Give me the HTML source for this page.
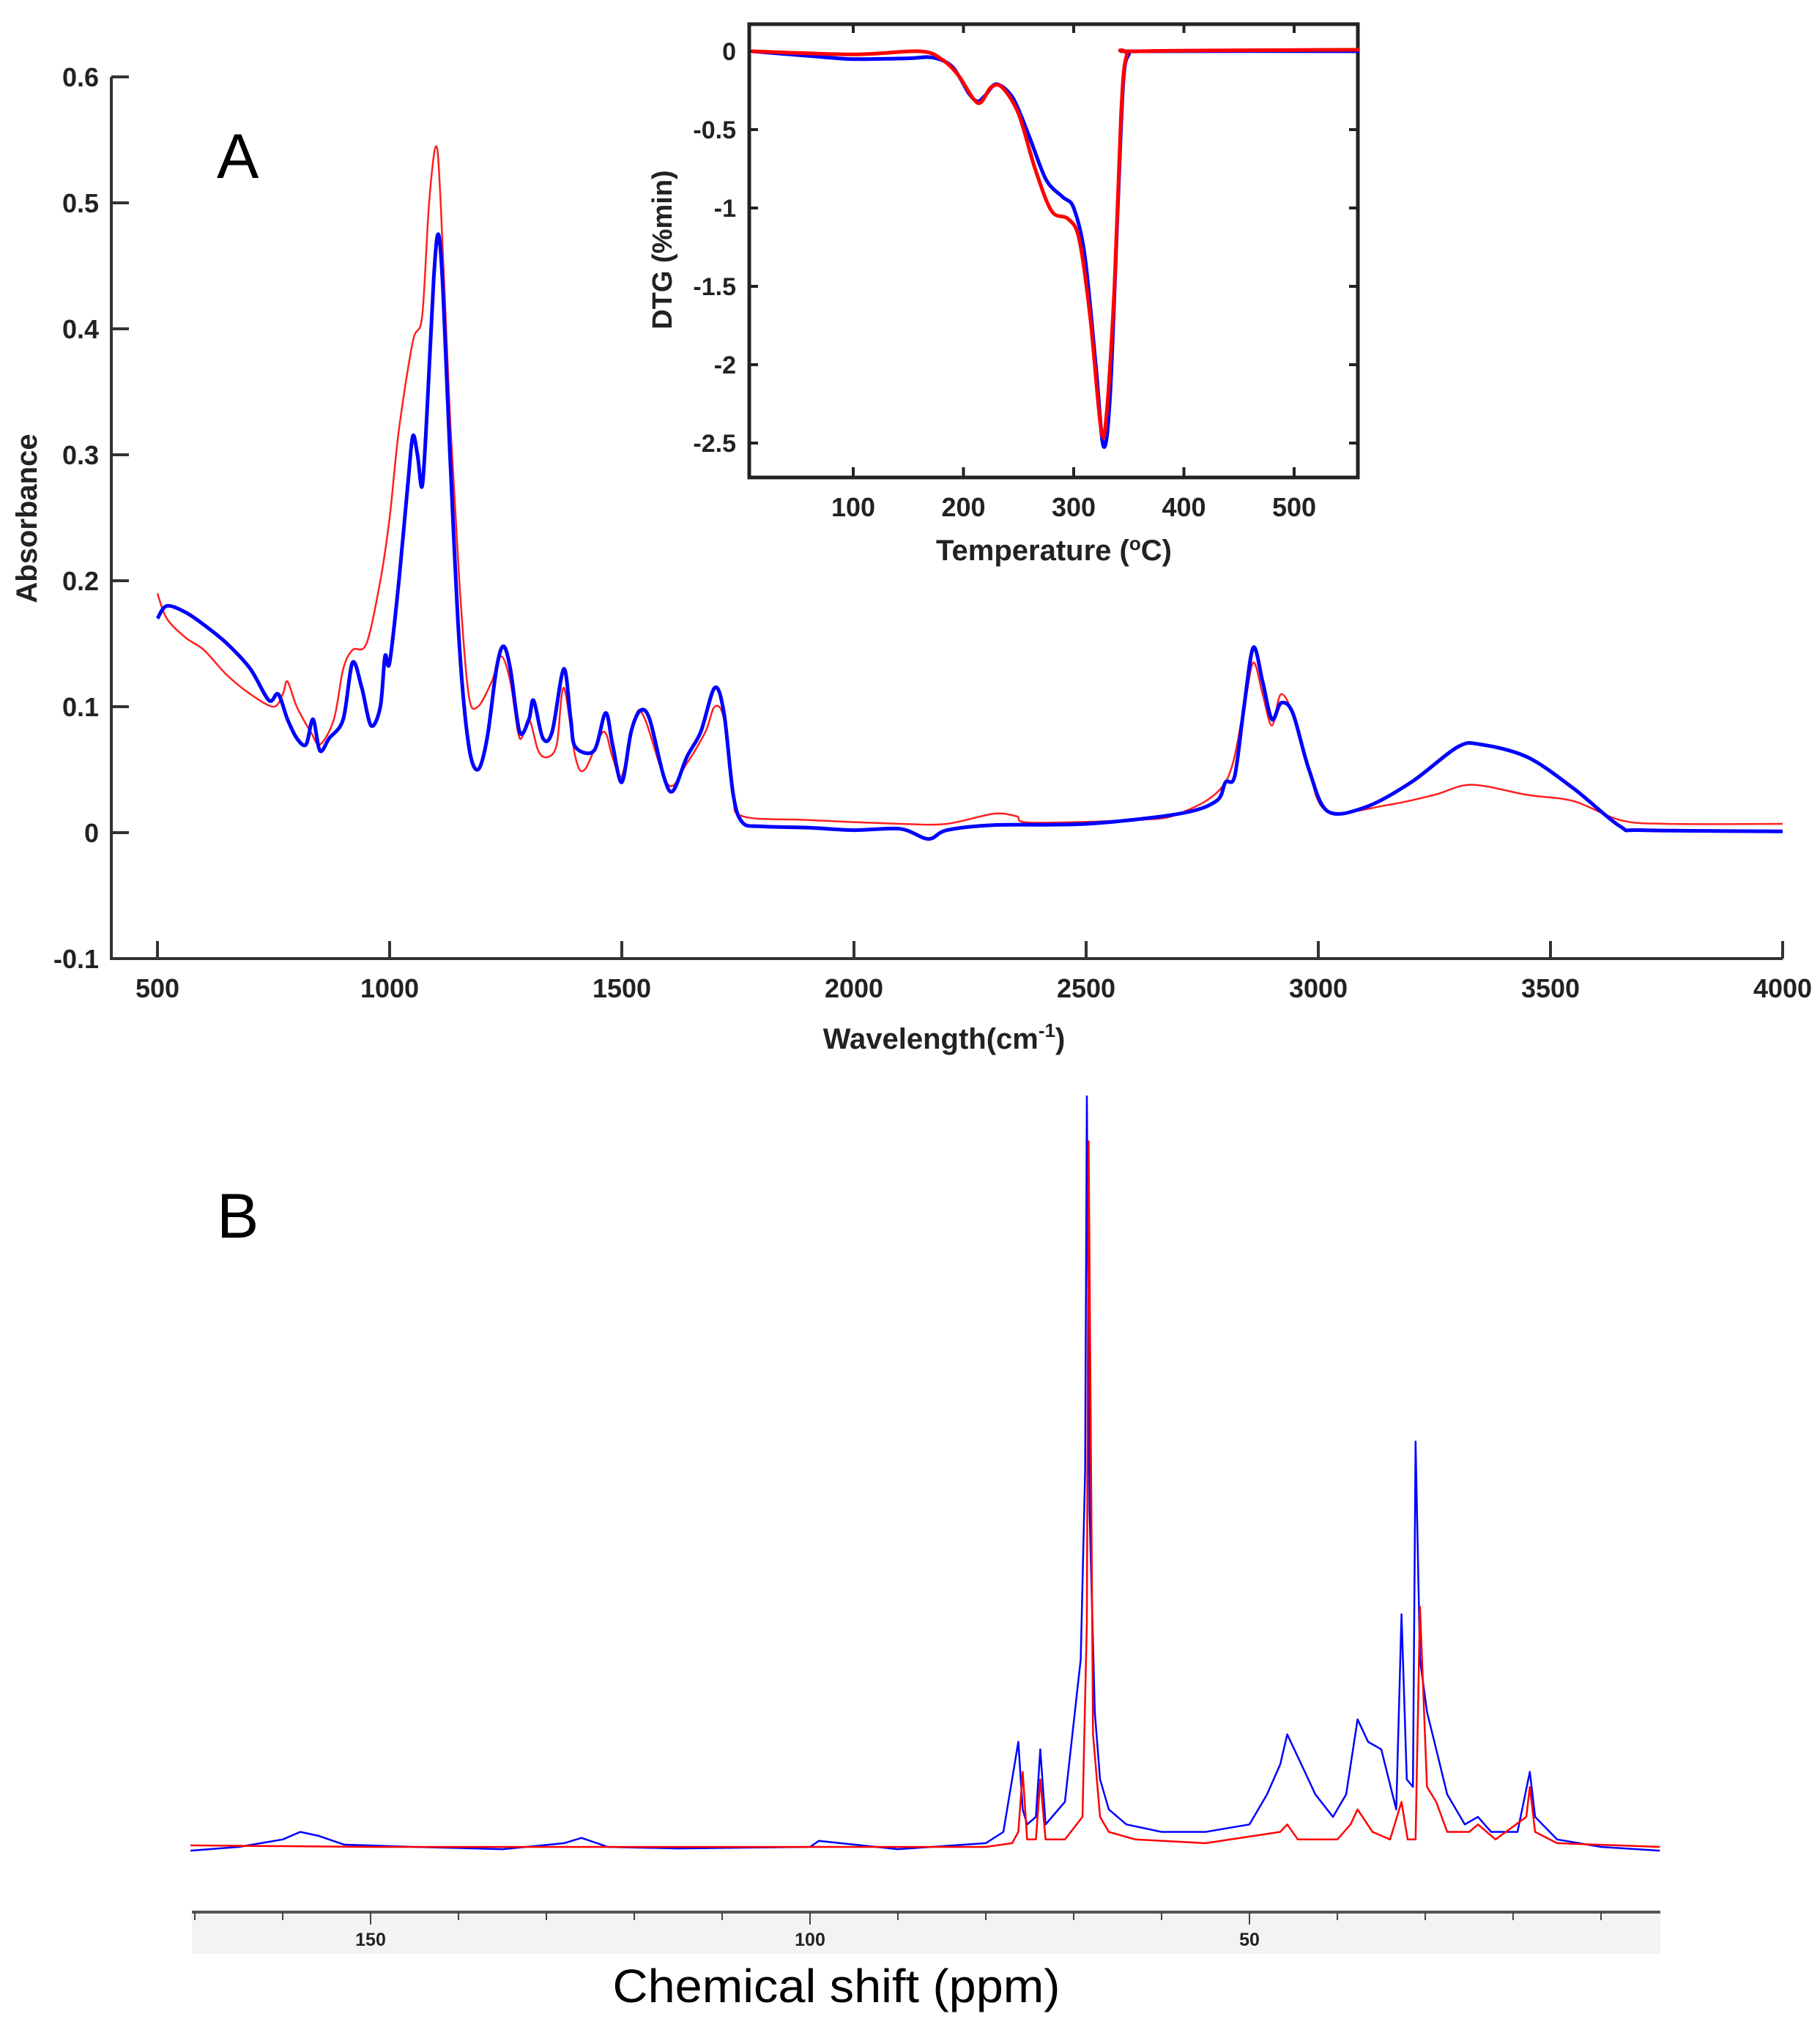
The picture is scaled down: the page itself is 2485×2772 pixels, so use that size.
<!DOCTYPE html>
<html><head><meta charset="utf-8"><style>
html,body{margin:0;padding:0;background:#fff;}
svg{display:block;font-family:"Liberation Sans",Arial,sans-serif;}
</style></head><body>
<svg id="fig" width="2485" height="2772" viewBox="0 0 2485 2772" xmlns="http://www.w3.org/2000/svg">
<g id="panelA"></g>
<g id="inset"></g>
<g id="panelB"></g>
</svg>
<script>
// ---------- FTIR data ----------
const ftirXTicks = [500,1000,1500,2000,2500,3000,3500,4000];
const ftirYTicks = [-0.1,0,0.1,0.2,0.3,0.4,0.5,0.6];
const ftirBlueX = [500,520,560,600,650,700,740,760,780,800,820,835,850,870,900,920,940,960,980,990,1000,1020,1040,1050,1060,1070,1080,1095,1105,1115,1130,1150,1170,1190,1210,1230,1245,1260,1280,1300,1310,1330,1350,1375,1390,1400,1440,1465,1480,1500,1520,1540,1560,1590,1610,1640,1670,1700,1720,1740,1760,1800,1900,2000,2100,2160,2200,2300,2500,2700,2780,2800,2820,2840,2860,2880,2900,2920,2945,2980,3020,3100,3200,3300,3350,3450,3550,3650,3700,4000];
const ftirBlueY = [0.17,0.18,0.175,0.165,0.15,0.13,0.105,0.11,0.09,0.075,0.07,0.09,0.065,0.075,0.09,0.135,0.115,0.085,0.1,0.14,0.135,0.2,0.28,0.315,0.3,0.275,0.33,0.44,0.475,0.43,0.3,0.15,0.07,0.05,0.075,0.13,0.148,0.13,0.08,0.09,0.105,0.075,0.08,0.13,0.09,0.068,0.065,0.095,0.07,0.04,0.08,0.097,0.09,0.045,0.033,0.06,0.08,0.115,0.095,0.03,0.008,0.005,0.004,0.002,0.003,-0.005,0.002,0.006,0.007,0.015,0.025,0.04,0.045,0.1,0.147,0.12,0.09,0.103,0.095,0.05,0.017,0.02,0.04,0.068,0.07,0.06,0.035,0.005,0.002,0.001];
const ftirRedX = [500,520,560,600,650,700,750,770,780,800,830,850,880,900,920,950,980,1000,1020,1050,1070,1085,1100,1110,1130,1150,1170,1190,1220,1240,1260,1280,1300,1320,1340,1360,1375,1400,1420,1460,1480,1500,1530,1550,1600,1640,1680,1700,1720,1740,1760,1900,2100,2200,2300,2350,2380,2600,2700,2800,2840,2860,2880,2900,2920,2950,2980,3020,3150,3250,3330,3450,3550,3650,3750,4000];
const ftirRedY = [0.19,0.17,0.155,0.145,0.125,0.11,0.1,0.11,0.12,0.1,0.08,0.07,0.09,0.13,0.145,0.15,0.2,0.25,0.32,0.39,0.41,0.5,0.545,0.5,0.33,0.2,0.11,0.1,0.12,0.14,0.12,0.075,0.09,0.065,0.06,0.07,0.115,0.06,0.05,0.08,0.06,0.045,0.093,0.09,0.038,0.055,0.08,0.1,0.09,0.03,0.013,0.01,0.007,0.007,0.015,0.013,0.008,0.01,0.015,0.04,0.1,0.135,0.11,0.085,0.11,0.09,0.05,0.017,0.022,0.03,0.038,0.03,0.025,0.01,0.007,0.007];
// ---------- DTG data ----------
const dtgXTicks = [100,200,300,400,500];
const dtgYTicks = [0,-0.5,-1,-1.5,-2,-2.5];
const dtgYLabels = ["0","-0.5","-1","-1.5","-2","-2.5"];
const dtgBlueX = [8,60,100,150,172,190,205,213,220,230,245,260,275,290,300,310,320,327,333,340,345,350,360,559];
const dtgBlueY = [0,-0.03,-0.05,-0.045,-0.04,-0.1,-0.27,-0.32,-0.28,-0.21,-0.3,-0.55,-0.82,-0.93,-1.0,-1.3,-2.0,-2.52,-2.2,-1.0,-0.2,-0.02,0,0];
const dtgRedX = [8,100,160,180,195,213,225,235,250,265,280,295,305,315,325,330,337,343,348,360,559];
const dtgRedY = [0,-0.02,0,-0.05,-0.15,-0.33,-0.23,-0.23,-0.4,-0.75,-1.02,-1.07,-1.2,-1.7,-2.42,-2.3,-1.5,-0.4,-0.03,0,0.01];
// ---------- NMR data ----------
const nmrLabelTicks = [150,100,50];
const nmrBlueX = [170.5,165,160,158,156,153,145,135,128,126,123,115,100,99,90,80,78,76.3,75.8,75.3,74.3,73.8,73.2,71,69.2,68.7,68.5,68.2,67.6,67,66,64,60,55,50,48,46.5,45.7,44.5,42.5,40.5,39,37.7,36.5,35,33.3,32.7,32.1,31.4,31.1,30.6,29.8,28.75,27.5,25.5,24,22.5,19.5,18.1,17.5,15,10,3.3];
const nmrBlueY = [-0.5,0,1,2,1.5,0.3,0,-0.3,0.5,1.2,0,-0.2,0,0.8,-0.3,0.5,2,14,5,3,4,13,3,6,25,50,100,45,18,9,5,3,2,2,3,7,11,15,12,7,4,7,17,14,13,5,31,9,8,54,25,18,13,7,3,4,2,2,10,4,1,0,-0.5];
const nmrRedX = [170.5,150,120,100,80,77,76.3,75.8,75.3,74.3,73.8,73.2,71,69,68.5,68.3,67.8,67,66,63,55,46.5,45.7,44.5,40,38.5,37.7,36,34,32.7,32,31.1,30.6,29.8,28.75,27.5,25,24,22,18.5,18.1,17.5,15,3.3];
const nmrRedY = [0.2,0,0,0,0,0.5,2,10,1,1,9,1,1,4,30,94,15,4,2,1,0.5,2,3,1,1,3,5,2,1,6,1,1,32,8,6,2,2,3,1,4,8,2,0.5,0];

const NS = "http://www.w3.org/2000/svg";
function mk(parent, tag, attrs, text){
  const e = document.createElementNS(NS, tag);
  for (const k in attrs) e.setAttribute(k, attrs[k]);
  if (text !== undefined) e.textContent = text;
  parent.appendChild(e);
  return e;
}
function pathD(xs, ys, fx, fy){
  return xs.map((x,i)=>(i?"L":"M")+fx(x).toFixed(1)+","+fy(ys[i]).toFixed(1)).join(" ");
}
function smoothD(xs, ys, fx, fy){
  const P = xs.map((x,i)=>[fx(x), fy(ys[i])]);
  let d = "M"+P[0][0].toFixed(1)+","+P[0][1].toFixed(1);
  const t = 0.16;
  for (let i=0;i<P.length-1;i++){
    const p0 = P[Math.max(0,i-1)], p1 = P[i], p2 = P[i+1], p3 = P[Math.min(P.length-1,i+2)];
    const c1 = [p1[0]+(p2[0]-p0[0])*t, p1[1]+(p2[1]-p0[1])*t];
    const c2 = [p2[0]-(p3[0]-p1[0])*t, p2[1]-(p3[1]-p1[1])*t];
    d += " C"+c1[0].toFixed(1)+","+c1[1].toFixed(1)+" "+c2[0].toFixed(1)+","+c2[1].toFixed(1)+" "+p2[0].toFixed(1)+","+p2[1].toFixed(1);
  }
  return d;
}

// ===== Panel A =====
const A = document.getElementById("panelA");
const ax = w => 215 + (w-500)*(2434-215)/3500;
const ay = v => 1137 - v*1720;
let e;
e = mk(A,"path",{d:"M152,105 L152,1309 L2434,1309",fill:"none",stroke:"#333",  "stroke-width":4});


ftirYTicks.forEach(v=>{
  const y = ay(v);
  e = mk(A,"line",{x1:152,x2:176,y1:y,y2:y,stroke:"#333","stroke-width":4});
  
  
  e = mk(A,"text",{x:135,y:y+13,"text-anchor":"end","font-size":36,"font-weight":"bold",fill:"#222"},String(v));
  
  
});
ftirXTicks.forEach(w=>{
  const x = ax(w);
  e = mk(A,"line",{x1:x,x2:x,y1:1309,y2:1285,stroke:"#333","stroke-width":4});
  
  
  e = mk(A,"text",{x:x,y:1362,"text-anchor":"middle","font-size":36,"font-weight":"bold",fill:"#222"},String(w));
  
  
});
e = mk(A,"text",{x:0,y:0,transform:"translate(50,708) rotate(-90)","text-anchor":"middle","font-size":40,"font-weight":"bold",fill:"#222"},"Absorbance");


e = mk(A,"text",{x:1289,y:1432,"text-anchor":"middle","font-size":40,"font-weight":"bold",fill:"#222"});


e.innerHTML = 'Wavelength(cm<tspan dy="-16" font-size="26">-1</tspan><tspan dy="16">)</tspan>';
e = mk(A,"text",{x:296,y:243,"font-size":86,fill:"#000"},"A");


e = mk(A,"path",{d:smoothD(ftirRedX,ftirRedY,ax,ay),fill:"none",stroke:"#ff2020","stroke-width":2.5,"stroke-linejoin":"round"});


e = mk(A,"path",{d:smoothD(ftirBlueX,ftirBlueY,ax,ay),fill:"none",stroke:"#0000ff","stroke-width":5,"stroke-linejoin":"round"});



// ===== Inset DTG =====
const I = document.getElementById("inset");
const ix = t => 1165 + (t-100)*(1767-1165)/400;
const iy = v => 70 - v*(605-70)/2.5;
e = mk(I,"rect",{x:1023,y:33,width:831,height:619,fill:"#fff",stroke:"#222","stroke-width":5});


dtgYTicks.forEach((v,i)=>{
  const y = iy(v);
  e = mk(I,"line",{x1:1023,x2:1035,y1:y,y2:y,stroke:"#222","stroke-width":4});
  
  
  e = mk(I,"line",{x1:1854,x2:1842,y1:y,y2:y,stroke:"#222","stroke-width":4});
  
  
  e = mk(I,"text",{x:1005,y:y+12,"text-anchor":"end","font-size":34,"font-weight":"bold",fill:"#222"},dtgYLabels[i]);
  
  
});
dtgXTicks.forEach(t=>{
  const x = ix(t);
  e = mk(I,"line",{x1:x,x2:x,y1:652,y2:638,stroke:"#222","stroke-width":4});
  
  
  e = mk(I,"line",{x1:x,x2:x,y1:33,y2:45,stroke:"#222","stroke-width":4});
  
  
  e = mk(I,"text",{x:x,y:705,"text-anchor":"middle","font-size":36,"font-weight":"bold",fill:"#222"},String(t));
  
  
});
e = mk(I,"text",{x:0,y:0,transform:"translate(917,341) rotate(-90)","text-anchor":"middle","font-size":38,"font-weight":"bold",fill:"#222"},"DTG (%min)");


e = mk(I,"text",{x:1439,y:765,"text-anchor":"middle","font-size":40,"font-weight":"bold",fill:"#222"});


e.innerHTML = 'Temperature (<tspan dy="-14" font-size="26">o</tspan><tspan dy="14">C)</tspan>';
e = mk(I,"path",{d:smoothD(dtgBlueX,dtgBlueY,ix,iy),fill:"none",stroke:"#0000ff","stroke-width":5,"stroke-linejoin":"round"});


e = mk(I,"path",{d:smoothD(dtgRedX,dtgRedY,ix,iy),fill:"none",stroke:"#ff0000","stroke-width":5,"stroke-linejoin":"round"});



// ===== Panel B =====
const B = document.getElementById("panelB");
const bx = p => 506 + (150-p)*12;
const by = v => 2522 - v*10.25;
e = mk(B,"text",{x:296,y:1690,"font-size":86,fill:"#000"},"B");


e = mk(B,"rect",{x:262,y:2611,width:2005,height:57,fill:"#f3f3f3"});


e = mk(B,"line",{x1:262,x2:2267,y1:2611,y2:2611,stroke:"#555","stroke-width":4});


for (let p=170; p>=10; p-=10){
  const major = (p % 50 === 0);
  e = mk(B,"line",{x1:bx(p),x2:bx(p),y1:2611,y2:major?2628:2622,stroke:"#444","stroke-width":2});
  
  
}
nmrLabelTicks.forEach(p=>{
  e = mk(B,"text",{x:bx(p),y:2657,"text-anchor":"middle","font-size":25,"font-weight":"bold",fill:"#222"},String(p));
  
  
});
e = mk(B,"text",{x:1142,y:2734,"text-anchor":"middle","font-size":64,fill:"#000",textLength:611,lengthAdjust:"spacingAndGlyphs"},"Chemical shift (ppm)");


e = mk(B,"path",{d:pathD(nmrBlueX,nmrBlueY,bx,by),fill:"none",stroke:"#0000ff","stroke-width":2.5,"stroke-linejoin":"round"});


e = mk(B,"path",{d:pathD(nmrRedX,nmrRedY,bx,by),fill:"none",stroke:"#ff0000","stroke-width":2.5,"stroke-linejoin":"round"});


</script>
</body></html>
